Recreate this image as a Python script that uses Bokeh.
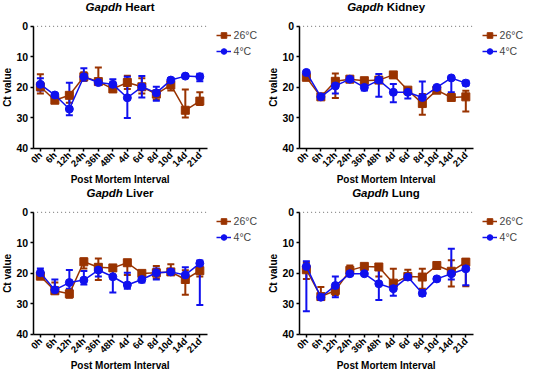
import math
from bokeh.plotting import figure
from bokeh.models import (ColumnDataSource, Range1d, Whisker, TeeHead, FixedTicker,
                          Label, Legend, LegendItem)
from bokeh.layouts import gridplot
from bokeh.embed import file_html
from bokeh.resources import INLINE

cats = ["0h", "6h", "12h", "24h", "36h", "48h", "4d", "6d", "8d", "10d", "14d", "21d"]
y_ticks = [0, 10, 20, 30, 40]

heart_26 = [19.8, 24.2, 22.6, 16.5, 18.1, 20.5, 18.4, 19.8, 22.2, 19.2, 27.5, 24.5]
heart_26_min = [15.7, 23.2, 21.8, 15.0, 13.5, 20.0, 16.2, 17.0, 21.0, 18.0, 20.7, 21.6]
heart_26_max = [22.0, 25.0, 25.0, 17.8, 18.8, 21.0, 20.5, 22.0, 24.0, 21.0, 29.9, 25.8]
heart_4 = [19.0, 22.5, 27.1, 16.5, 18.4, 19.0, 23.4, 19.8, 21.8, 17.6, 16.3, 16.5]
heart_4_min = [17.0, 22.0, 18.5, 13.7, 18.0, 17.3, 16.5, 16.3, 19.8, 17.0, 16.0, 15.5]
heart_4_max = [21.0, 23.5, 29.1, 17.8, 18.8, 20.3, 30.0, 23.3, 24.4, 18.5, 16.8, 18.0]

kid_26 = [16.7, 23.1, 18.0, 17.3, 17.8, 17.6, 15.9, 20.9, 25.3, 20.9, 23.3, 23.1]
kid_26_min = [16.0, 22.6, 15.4, 16.8, 17.3, 17.1, 15.4, 20.4, 22.2, 20.4, 22.8, 21.1]
kid_26_max = [17.2, 23.6, 23.5, 17.8, 18.3, 18.1, 16.4, 21.4, 29.0, 21.4, 23.8, 27.9]
kid_4 = [15.1, 23.1, 19.5, 17.3, 20.0, 17.6, 21.6, 21.6, 23.3, 20.0, 16.9, 18.6]
kid_4_min = [14.6, 22.6, 17.6, 16.8, 19.0, 15.6, 18.9, 20.5, 18.1, 19.5, 16.4, 17.8]
kid_4_max = [15.6, 23.6, 22.0, 17.8, 21.0, 23.1, 24.9, 23.6, 24.0, 20.5, 21.6, 19.4]

liv_26 = [20.9, 25.7, 26.7, 16.2, 18.0, 18.2, 16.5, 20.0, 19.8, 19.5, 22.0, 19.1]
liv_26_min = [20.0, 23.0, 25.5, 15.1, 15.1, 17.7, 16.0, 19.5, 17.6, 17.0, 19.0, 17.8]
liv_26_max = [21.7, 26.5, 28.0, 18.4, 22.2, 18.7, 20.5, 20.5, 21.6, 20.3, 27.0, 21.0]
liv_4 = [19.8, 25.4, 23.0, 22.2, 18.9, 21.1, 23.8, 22.0, 19.8, 19.5, 20.5, 16.7]
liv_4_min = [18.4, 22.0, 18.9, 19.2, 17.0, 18.0, 19.8, 21.0, 18.4, 19.0, 18.0, 15.8]
liv_4_max = [21.2, 26.5, 25.0, 23.6, 21.0, 26.3, 25.0, 23.0, 22.0, 20.0, 22.6, 30.4]

lung_26 = [18.8, 27.6, 25.6, 19.0, 17.7, 17.9, 23.2, 21.0, 21.2, 17.4, 19.3, 16.3]
lung_26_min = [16.5, 24.5, 23.8, 17.4, 17.2, 17.4, 18.5, 18.8, 18.5, 16.9, 15.7, 15.5]
lung_26_max = [21.8, 28.1, 27.2, 20.6, 18.2, 21.0, 24.5, 22.2, 25.0, 17.9, 24.3, 24.2]
lung_4 = [17.7, 27.8, 24.0, 20.1, 20.1, 23.4, 25.0, 21.2, 26.5, 21.8, 20.1, 18.5]
lung_4_min = [16.0, 26.7, 21.0, 19.6, 19.6, 17.9, 23.2, 20.7, 25.6, 21.3, 11.9, 17.0]
lung_4_max = [32.4, 28.7, 27.8, 20.6, 20.6, 28.7, 27.3, 21.7, 27.3, 22.3, 22.0, 23.9]

gene = "Gapdh"
series_names = ["26°C", "4°C"]
x_title = "Post Mortem Interval"
y_title = "Ct value"
FONT = "Liberation Sans"
C26 = "#993300"
C4 = "#1010ee"

xs = list(range(len(cats)))
X_LO, X_HI = -0.5, len(cats) - 0.5      # axis extent
X_START, X_END = -2.75, 15.6            # room for y labels (left) and legend (right)
Y_MIN, Y_MAX = y_ticks[0], y_ticks[-1]
Y_TOP, Y_BOTTOM = -8.5, 52.5            # room for title (top) and x labels (bottom)
FW, FH = 266, 186
PX_X = FW / (X_END - X_START)
PX_Y = FH / (Y_BOTTOM - Y_TOP)


def panel(organ, v26, lo26, hi26, v4, lo4, hi4, organ_offset):
    p = figure(x_range=Range1d(X_START, X_END), y_range=Range1d(Y_BOTTOM, Y_TOP),
               frame_width=FW, frame_height=FH,
               output_backend="svg", toolbar_location=None,
               min_border_left=0, min_border_top=0, min_border_right=0,
               min_border_bottom=0)
    p.outline_line_color = None
    p.xgrid.visible = False
    p.ygrid.visible = False

    # dotted line at Ct = 0 along the axis extent
    p.line([X_LO, X_HI], [Y_MIN, Y_MIN], line_color="#888888",
           line_dash="1 3", line_width=1.2)

    renderers = []
    for vals, lo, hi, col, marker in [(v26, lo26, hi26, C26, "square"),
                                      (v4, lo4, hi4, C4, "circle")]:
        src = ColumnDataSource(dict(x=xs, y=vals, lo=lo, hi=hi))
        ln = p.line("x", "y", source=src, line_color=col, line_width=1.5)
        p.add_layout(Whisker(source=src, base="x", lower="lo", upper="hi",
                             line_color=col, line_width=2,
                             upper_head=TeeHead(size=7, line_color=col, line_width=2),
                             lower_head=TeeHead(size=7, line_color=col, line_width=2)))
        sc = p.scatter("x", "y", source=src, marker=marker, size=8,
                       fill_color=col, line_color=col)
        renderers.append([ln, sc])

    leg_x = (X_HI - X_START) * PX_X + 9
    leg_y = (Y_BOTTOM - Y_MIN) * PX_Y - 34 + 2
    legend = Legend(items=[LegendItem(label=series_names[0], renderers=renderers[0]),
                           LegendItem(label=series_names[1], renderers=renderers[1])],
                    location=(leg_x, leg_y), border_line_color=None,
                    background_fill_alpha=0, label_text_font=FONT,
                    label_text_font_size="10.5px", glyph_width=15, glyph_height=14,
                    label_standoff=3, padding=2, margin=0, spacing=2,
                    label_height=14)
    p.add_layout(legend)

    p.xaxis.fixed_location = Y_MAX
    p.yaxis.fixed_location = X_LO
    p.xaxis.ticker = FixedTicker(ticks=xs)
    p.xaxis.major_label_overrides = {i: c for i, c in zip(xs, cats)}
    p.xaxis.bounds = (X_LO, X_HI)
    p.yaxis.ticker = FixedTicker(ticks=y_ticks)
    p.yaxis.bounds = (Y_MIN, Y_MAX)
    for ax in (p.xaxis, p.yaxis):
        ax.axis_line_width = 1.5
        ax.axis_line_color = "black"
        ax.major_tick_line_width = 1.5
        ax.major_tick_line_color = "black"
        ax.major_tick_out = 3
        ax.major_tick_in = 0
        ax.minor_tick_line_color = None
        ax.major_label_text_font = FONT
        ax.major_label_text_font_style = "bold"
        ax.major_label_text_color = "black"
    p.yaxis.major_label_text_font_size = "10.5px"
    p.xaxis.major_label_text_font_size = "9.5px"
    p.xaxis.major_label_orientation = 0.785
    p.yaxis.major_label_standoff = 2
    p.xaxis.major_label_standoff = 2

    x_mid = (X_LO + X_HI) / 2
    y_mid = (Y_MIN + Y_MAX) / 2
    # axis titles
    p.add_layout(Label(x=x_mid, y=Y_MAX + 31 / PX_Y, text=x_title,
                       text_align="center", text_baseline="middle",
                       text_font=FONT, text_font_size="10px",
                       text_font_style="bold", text_color="black"))
    p.add_layout(Label(x=X_LO - 26 / PX_X, y=y_mid, text=y_title, angle=math.pi / 2,
                       text_align="center", text_baseline="middle",
                       text_font=FONT, text_font_size="10px",
                       text_font_style="bold", text_color="black"))
    # panel title: italic gene name + organ
    p.add_layout(Label(x=x_mid, y=Y_MIN, y_offset=19, text=gene, text_align="right",
                       text_baseline="middle", x_offset=organ_offset,
                       text_font=FONT, text_font_size="11.5px",
                       text_font_style="bold italic", text_color="black"))
    p.add_layout(Label(x=x_mid, y=Y_MIN, y_offset=19, text=organ, text_align="left",
                       text_baseline="middle", x_offset=organ_offset + 3.2,
                       text_font=FONT, text_font_size="11.5px",
                       text_font_style="bold", text_color="black"))
    return p


p1 = panel("Heart", heart_26, heart_26_min, heart_26_max, heart_4, heart_4_min, heart_4_max, 1.9)
p2 = panel("Kidney", kid_26, kid_26_min, kid_26_max, kid_4, kid_4_min, kid_4_max, -2.5)
p3 = panel("Liver", liv_26, liv_26_min, liv_26_max, liv_4, liv_4_min, liv_4_max, 2.8)
p4 = panel("Lung", lung_26, lung_26_min, lung_26_max, lung_4, lung_4_min, lung_4_max, 2.5)

p = gridplot([[p1, p2], [p3, p4]], toolbar_location=None)

open("out.html", "w").write(file_html(p, INLINE))
